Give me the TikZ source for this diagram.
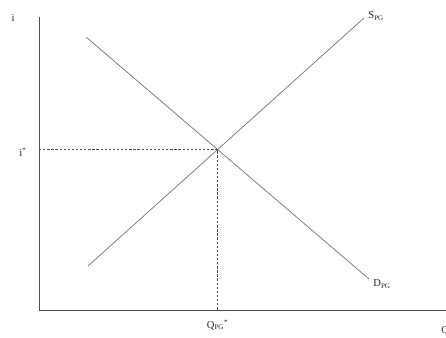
\documentclass[tikz,border=0pt]{standalone}
\usepackage{fontspec}
\setmainfont{Liberation Serif}
\usetikzlibrary{intersections}

\begin{document}
\begin{tikzpicture}[x=0.03cm,y=-0.03cm,
  axis/.style={draw=black!70,line width=0.7pt},
  curve/.style={draw=black!55,line width=0.6pt},
  guide/.style={draw=black!70,dashed,dash pattern=on 2pt off 1.5pt,line width=0.5pt},
  lab/.style={font=\small,inner sep=1pt,text=black!85}]
\useasboundingbox (0,0) rectangle (446,338);
% axes
\coordinate (origin) at (39,310);
\coordinate (ytop) at (39,17);
\coordinate (xend) at (446,310);
\draw[axis] (ytop) -- (origin) -- (xend);
\node[lab] (ilab) at (13,18) {i};
\node[lab,anchor=west] (qlab) at (440,331) {Q};
% demand and supply
\coordinate (d0) at (86,37);
\coordinate (d1) at (369,279);
\coordinate (s0) at (88,266);
\coordinate (s1) at (364,18);
\draw[curve,name path=dem] (d0) -- (d1);
\draw[curve,name path=sup] (s0) -- (s1);
\node[lab,anchor=west] (slab) at (367,16) {S\textsubscript{PG}};
\node[lab,anchor=west] (dlab) at (372,284) {D\textsubscript{PG}};
% equilibrium
\path[name intersections={of=dem and sup,by=eq}];
\coordinate (ieq) at (origin |- eq);
\coordinate (qeq) at (eq |- origin);
\draw[guide] (ieq) -- (eq) -- (qeq);
\node[lab] (istar) at (23,152) {i\textsuperscript{*}};
\node[lab] (qstar) at ([yshift=-4.5mm]qeq) {Q\textsubscript{PG}\textsuperscript{*}};
\end{tikzpicture}
\end{document}
